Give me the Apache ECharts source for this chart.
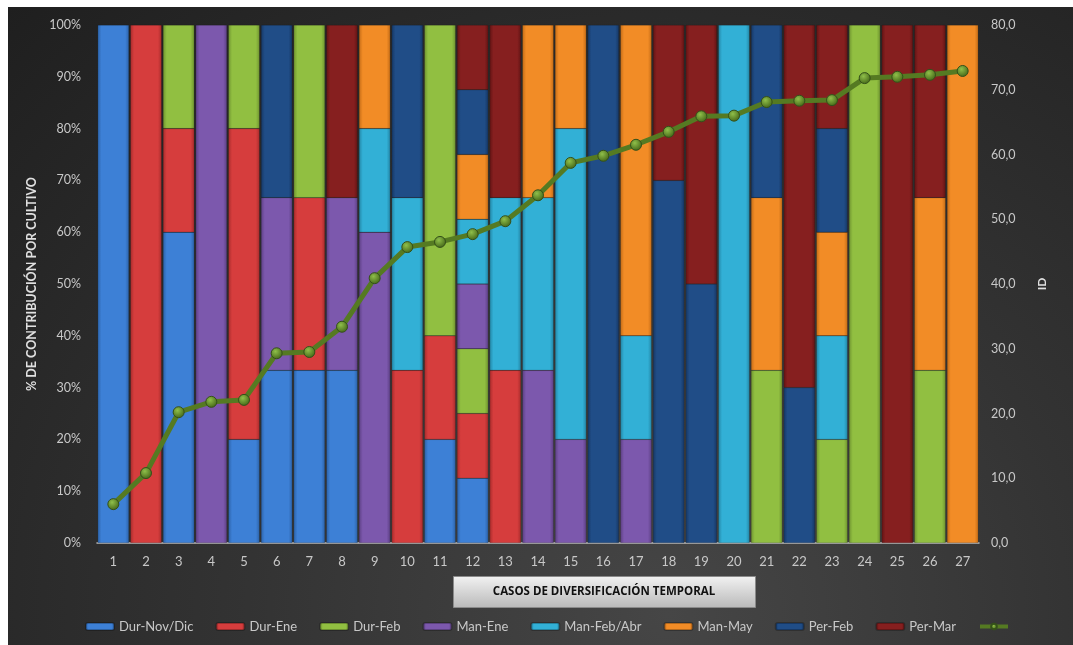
<!DOCTYPE html>
<html>
<head>
<meta charset="utf-8">
<script src="https://cdn.jsdelivr.net/npm/echarts@6/dist/echarts.min.js"></script>
<style>
  html, body { margin: 0; padding: 0; background: #ffffff; }
  #chart {
    position: absolute; left: 8px; top: 7px; width: 1065px; height: 638px;
    background: radial-gradient(ellipse at 62% 95%, #464646 0%, #333333 45%, #1f1f1f 100%);
  }
</style>
</head>
<body>
<div id="chart"></div>
<script>
// casos 1..27
var casos = ['1','2','3','4','5','6','7','8','9','10','11','12','13','14','15','16','17','18','19','20','21','22','23','24','25','26','27'];

// % de contribucion por cultivo (apilado)
var durNovDic = [100,0,60,0,20,33.33,33.33,33.33,0,0,20,12.5,0,0,0,0,0,0,0,0,0,0,0,0,0,0,0];
var durEne    = [0,100,20,0,60,0,33.33,0,0,33.33,20,12.5,33.33,0,0,0,0,0,0,0,0,0,0,0,0,0,0];
var durFeb    = [0,0,20,0,20,0,33.34,0,0,0,60,12.5,0,0,0,0,0,0,0,0,33.33,0,20,100,0,33.33,0];
var manEne    = [0,0,0,100,0,33.33,0,33.33,60,0,0,12.5,0,33.33,20,0,20,0,0,0,0,0,0,0,0,0,0];
var manFebAbr = [0,0,0,0,0,0,0,0,20,33.33,0,12.5,33.33,33.33,60,0,20,0,0,100,0,0,20,0,0,0,0];
var manMay    = [0,0,0,0,0,0,0,0,20,0,0,12.5,0,33.34,20,0,60,0,0,0,33.33,0,20,0,0,33.33,100];
var perFeb    = [0,0,0,0,0,33.34,0,0,0,33.34,0,12.5,0,0,0,100,0,70,50,0,33.34,30,20,0,0,0,0];
var perMar    = [0,0,0,0,0,0,0,33.34,0,0,0,12.5,33.34,0,0,0,0,30,50,0,0,70,20,0,100,33.34,0];

// ID (eje derecho)
var ids = [6.0,10.8,20.2,21.8,22.1,29.3,29.5,33.4,40.9,45.7,46.5,47.7,49.7,53.7,58.7,59.8,61.5,63.5,65.9,66.0,68.1,68.3,68.4,71.8,72.0,72.3,72.9];

var chart = echarts.init(document.getElementById('chart'));

function bevel(base, dark) {
  return {
    type: 'linear', x: 0, y: 0, x2: 1, y2: 0,
    colorStops: [
      { offset: 0, color: dark },
      { offset: 0.12, color: base },
      { offset: 0.88, color: base },
      { offset: 1, color: dark }
    ]
  };
}

function barSerie(name, data, base, dark) {
  return {
    name: name,
    type: 'bar',
    stack: 'total',
    barCategoryGap: '4%',
    data: data.map(function (v) { return v === 0 ? null : v; }),
    itemStyle: {
      color: bevel(base, dark),
      borderColor: 'rgba(0,0,0,0.25)',
      borderWidth: 0.5
    },
    emphasis: { disabled: true }
  };
}

var txt = '#c8c8c8';

chart.setOption({
  backgroundColor: 'transparent',
  animation: false,
  textStyle: { fontFamily: 'Lato, "Open Sans", sans-serif' },
  grid: { left: 89, right: 94, top: 18, bottom: 102 },
  legend: {
    bottom: 7,
    left: 72,
    itemWidth: 28,
    itemHeight: 7,
    itemGap: 22,
    textStyle: { color: txt, fontSize: 13 },
    formatter: function (n) { return n === 'ID' ? '' : n; },
    data: ['Dur-Nov/Dic','Dur-Ene','Dur-Feb','Man-Ene','Man-Feb/Abr','Man-May','Per-Feb','Per-Mar',
      { name: 'ID', lineStyle: { width: 4 } }]
  },
  xAxis: {
    type: 'category',
    data: casos,
    axisTick: { show: false },
    axisLine: { lineStyle: { color: '#bdbdbd', width: 1.5 } },
    axisLabel: { color: txt, fontSize: 13, margin: 12 }
  },
  yAxis: [{
    type: 'value',
    min: 0, max: 100, interval: 10,
    name: '% DE CONTRIBUCIÓN POR CULTIVO',
    nameLocation: 'middle',
    nameGap: 52,
    nameTextStyle: { color: '#e0e0e0', fontSize: 12.5, fontWeight: 'bold' },
    splitLine: { show: false },
    axisLine: { show: false },
    axisTick: { show: false },
    axisLabel: { color: txt, fontSize: 12.5, margin: 16, formatter: '{value}%' }
  }, {
    type: 'value',
    min: 0, max: 80, interval: 10,
    name: 'ID',
    nameLocation: 'middle',
    nameRotate: 90,
    nameGap: 57,
    nameTextStyle: { color: '#e0e0e0', fontSize: 12, fontWeight: 'bold' },
    splitLine: { show: false },
    axisLine: { show: false },
    axisTick: { show: false },
    axisLabel: {
      color: txt, fontSize: 12.5, margin: 12,
      formatter: function (v) { return v.toFixed(1).replace('.', ','); }
    }
  }],
  series: [
    barSerie('Dur-Nov/Dic', durNovDic, '#3d80d6', '#2c62a8'),
    barSerie('Dur-Ene', durEne, '#d63d3d', '#a82c2c'),
    barSerie('Dur-Feb', durFeb, '#91bf41', '#6f9430'),
    barSerie('Man-Ene', manEne, '#7c58ad', '#5d4085'),
    barSerie('Man-Feb/Abr', manFebAbr, '#32b0d6', '#2386a6'),
    barSerie('Man-May', manMay, '#f28c26', '#c46c17'),
    barSerie('Per-Feb', perFeb, '#204d87', '#163764'),
    barSerie('Per-Mar', perMar, '#861f1f', '#621414'),
    {
      name: 'ID',
      type: 'line',
      yAxisIndex: 1,
      data: ids,
      symbol: 'circle',
      symbolSize: 11,
      lineStyle: { color: '#557a22', width: 5 },
      itemStyle: {
        color: { type: 'radial', x: 0.4, y: 0.35, r: 0.6,
          colorStops: [{ offset: 0, color: '#8fbf4a' }, { offset: 1, color: '#4b6f1c' }] },
        borderColor: '#34501a',
        borderWidth: 1
      },
      z: 5,
      emphasis: { disabled: true }
    }
  ],
  graphic: [{
    type: 'rect',
    left: 445, top: 569,
    shape: { width: 302, height: 31 },
    style: {
      fill: { type: 'linear', x: 0, y: 0, x2: 0, y2: 1,
        colorStops: [{ offset: 0, color: '#f2f2f2' }, { offset: 1, color: '#b9b9b9' }] },
      stroke: '#8a8a8a', lineWidth: 1
    }
  }, {
    type: 'text',
    x: 596, y: 585,
    style: {
      text: 'CASOS DE DIVERSIFICACIÓN TEMPORAL',
      fill: '#111111',
      font: 'bold 11.5px "Open Sans", sans-serif',
      textAlign: 'center',
      textVerticalAlign: 'middle'
    }
  }]
});
</script>
</body>
</html>
